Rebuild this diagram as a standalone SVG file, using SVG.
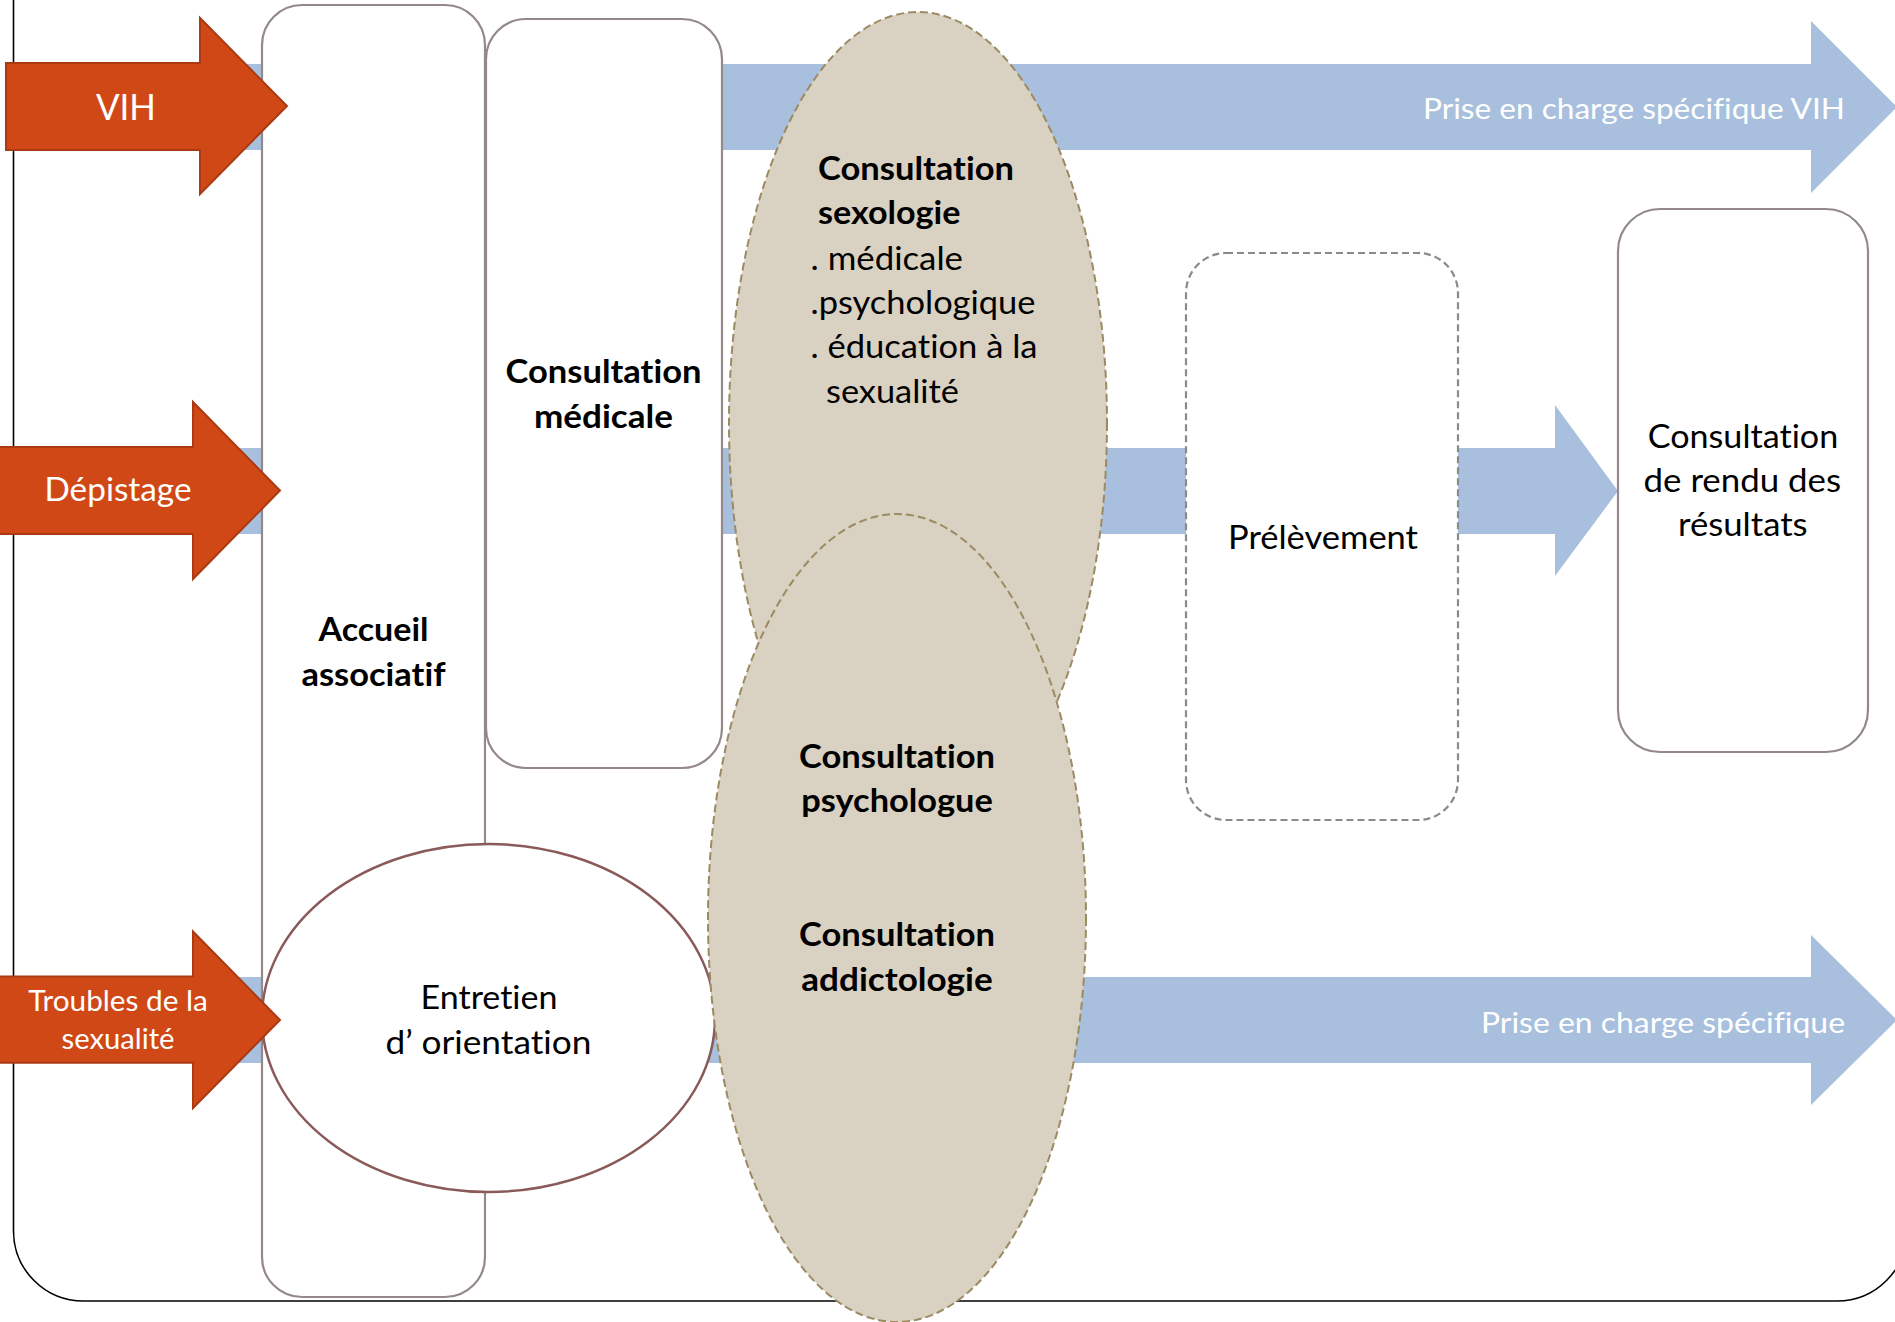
<svg xmlns="http://www.w3.org/2000/svg" width="1895" height="1322" viewBox="0 0 1895 1322">
<style>
.t{font-family:Lato,"Liberation Sans",sans-serif;fill:#000;font-variant-ligatures:none}
.b{font-weight:bold}
.w{fill:#FFFFFF}
.c{text-anchor:middle}
.r{text-anchor:end}
.f37{font-size:33px}
.f32{font-size:29px}
.f40{font-size:36px}
.box{fill:#FFFFFF;stroke:#948888;stroke-width:2.2}
.dbox{fill:#FFFFFF;stroke:#8A8A8A;stroke-width:2.2;stroke-dasharray:7,4}
.ell{fill:#D9D1C1;stroke:#9C8A62;stroke-width:2;stroke-dasharray:8,4}
.band{fill:#A8C0DE}
.red{fill:#D14817;stroke:#A93A12;stroke-width:2}
</style>
<rect x="0" y="0" width="1895" height="1322" fill="#FFFFFF"/>
<path id="frame" d="M13.5,-10 V1231 A70,70 0 0 0 83.5,1301 H1837 A70,70 0 0 0 1907,1231 V-10" fill="none" stroke="#000000" stroke-width="1.6"/>
<g id="connectors">
<polygon id="band-vih" class="band" points="220,64 1811,64 1811,21 1897,107 1811,193 1811,150 220,150"/>
<polygon id="band-depistage" class="band" points="220,448 1555,448 1555,405 1618,491 1555,576 1555,534 220,534"/>
<polygon id="band-specifique" class="band" points="220,977 1811,977 1811,935 1897,1020 1811,1105 1811,1063 220,1063"/>
</g>
<g id="accueil">
<rect class="box" x="262" y="5" width="223" height="1292" rx="40"/>
<text class="t b c f37" x="373.5" y="641" textLength="110" lengthAdjust="spacingAndGlyphs">Accueil</text>
<text class="t b c f37" x="373.5" y="686" textLength="144" lengthAdjust="spacingAndGlyphs">associatif</text>
</g>
<g id="medicale">
<rect class="box" x="486" y="19" width="236" height="749" rx="40"/>
<text class="t b c f37" x="603.5" y="383" textLength="196" lengthAdjust="spacingAndGlyphs">Consultation</text>
<text class="t b c f37" x="603.5" y="428" textLength="139" lengthAdjust="spacingAndGlyphs">médicale</text>
</g>
<g id="entretien">
<ellipse cx="488.5" cy="1018" rx="226.5" ry="174" fill="#FFFFFF" stroke="#8A5A5A" stroke-width="2.5"/>
<text class="t c f37" x="489" y="1009" textLength="137" lengthAdjust="spacingAndGlyphs">Entretien</text>
<text class="t c f37" x="488.5" y="1053.5" textLength="206" lengthAdjust="spacingAndGlyphs">d’ orientation</text>
</g>
<g id="sexologie">
<ellipse class="ell" cx="918" cy="423" rx="189" ry="411"/>
<text class="t b f37" x="818" y="180" textLength="196" lengthAdjust="spacingAndGlyphs">Consultation</text>
<text class="t b f37" x="818" y="224" textLength="142.5" lengthAdjust="spacingAndGlyphs">sexologie</text>
<text class="t f37" x="810.5" y="270" textLength="152.5" lengthAdjust="spacingAndGlyphs">. médicale</text>
<text class="t f37" x="810.5" y="314" textLength="225" lengthAdjust="spacingAndGlyphs">.psychologique</text>
<text class="t f37" x="810.5" y="358" textLength="227" lengthAdjust="spacingAndGlyphs">. éducation à la</text>
<text class="t f37" x="826" y="403" textLength="133" lengthAdjust="spacingAndGlyphs">sexualité</text>
</g>
<g id="psychologue-addictologie">
<ellipse class="ell" cx="897" cy="918" rx="189" ry="404"/>
<text class="t b c f37" x="897" y="768" textLength="196" lengthAdjust="spacingAndGlyphs">Consultation</text>
<text class="t b c f37" x="897" y="812" textLength="191.5" lengthAdjust="spacingAndGlyphs">psychologue</text>
<text class="t b c f37" x="897" y="946" textLength="196" lengthAdjust="spacingAndGlyphs">Consultation</text>
<text class="t b c f37" x="897" y="991" textLength="191.5" lengthAdjust="spacingAndGlyphs">addictologie</text>
</g>
<g id="prelevement">
<rect class="dbox" x="1186" y="253" width="272" height="567" rx="40"/>
<text class="t c f37" x="1323" y="549" textLength="190" lengthAdjust="spacingAndGlyphs">Prélèvement</text>
</g>
<g id="rendu">
<rect class="box" x="1618" y="209" width="250" height="543" rx="42"/>
<text class="t c f37" x="1743" y="448" textLength="190.6" lengthAdjust="spacingAndGlyphs">Consultation</text>
<text class="t c f37" x="1742.3" y="492" textLength="197.4" lengthAdjust="spacingAndGlyphs">de rendu des</text>
<text class="t c f37" x="1742.8" y="536" textLength="129.6" lengthAdjust="spacingAndGlyphs">résultats</text>
</g>
<g id="label-vih-band">
<text class="t w r f32" x="1845" y="119" textLength="422" lengthAdjust="spacingAndGlyphs">Prise en charge spécifique VIH</text>
</g>
<g id="label-specifique-band">
<text class="t w r f32" x="1845" y="1033" textLength="364" lengthAdjust="spacingAndGlyphs">Prise en charge spécifique</text>
</g>
<g id="vih">
<polygon class="red" points="6,63 200,63 200,18 287,106 200,194 200,150 6,150"/>
<text class="t w c f40" x="126" y="119.5" textLength="60" lengthAdjust="spacingAndGlyphs">VIH</text>
</g>
<g id="depistage">
<polygon class="red" points="-3,447 193,447 193,402 280,490.5 193,579 193,534 -3,534"/>
<text class="t w c f37" x="118" y="501" textLength="147" lengthAdjust="spacingAndGlyphs">Dépistage</text>
</g>
<g id="troubles">
<polygon class="red" points="-3,976.6 193,976.6 193,931.5 280,1020 193,1108 193,1062.7 -3,1062.7"/>
<text class="t w c f32" x="118" y="1011" textLength="179.5" lengthAdjust="spacingAndGlyphs">Troubles de la</text>
<text class="t w c f32" x="118" y="1049" textLength="113" lengthAdjust="spacingAndGlyphs">sexualité</text>
</g>
</svg>
